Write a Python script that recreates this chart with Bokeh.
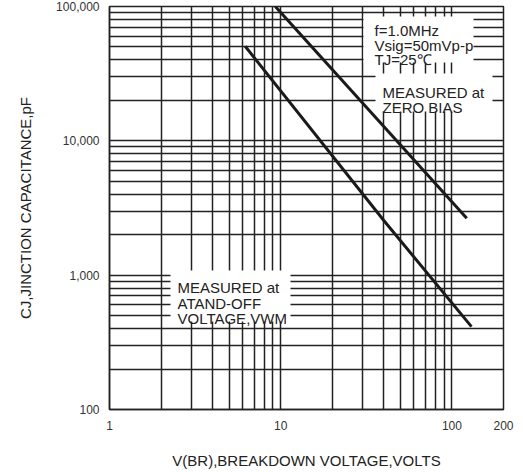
from bokeh.plotting import figure
from bokeh.models import FixedTicker, NumeralTickFormatter, Label, BoxAnnotation, Range1d
from bokeh.embed import file_html
from bokeh.resources import INLINE

# ---- data ----
x_major = [1, 10, 100, 200]
x_minor = [2, 3, 4, 5, 6, 7, 8, 9, 20, 30, 40, 50, 60, 70, 80, 90]
y_major = [100, 1000, 10000, 100000]
y_minor = [200, 300, 400, 500, 600, 700, 800, 900,
           2000, 3000, 4000, 5000, 6000, 7000, 8000, 9000,
           20000, 30000, 40000, 50000, 60000, 70000, 80000, 90000]

zero_bias_v = [9.3, 122]
zero_bias_c = [100000, 2650]
standoff_v = [6.2, 40, 130]
standoff_c = [50600, 2550, 414]

FONT = "Liberation Sans"
INK = "#222222"

p = figure(width=523, height=472, x_axis_type="log", y_axis_type="log",
           x_range=Range1d(1, 200), y_range=Range1d(100, 100000),
           output_backend="svg", toolbar_location=None,
           min_border_left=109, min_border_right=20, min_border_top=6, min_border_bottom=63,
           margin=(0, 0, 0, 0))

p.outline_line_color = INK
p.outline_line_width = 1.5
p.background_fill_color = "white"
p.border_fill_color = "white"

xt = FixedTicker(ticks=x_major, minor_ticks=x_minor)
yt = FixedTicker(ticks=y_major, minor_ticks=y_minor)
p.xaxis.ticker = xt
p.yaxis.ticker = yt
p.xaxis.formatter = NumeralTickFormatter(format="0,0")
p.yaxis.formatter = NumeralTickFormatter(format="0,0")

for ax in (p.xaxis[0], p.yaxis[0]):
    ax.major_tick_line_color = None
    ax.minor_tick_line_color = None
    ax.axis_line_color = INK
    ax.axis_line_width = 1.5
    ax.major_label_text_font = FONT
    ax.major_label_text_font_size = "12px"
    ax.major_label_text_color = "#333333"
    ax.axis_label_text_font = FONT
    ax.axis_label_text_font_size = "15px"
    ax.axis_label_text_font_style = "normal"
    ax.axis_label_text_color = INK

p.xaxis.major_label_standoff = 5
p.xaxis.axis_label_standoff = 19
p.yaxis.major_label_standoff = 4
p.yaxis.axis_label_standoff = 19

p.xaxis.axis_label = "V(BR),BREAKDOWN VOLTAGE,VOLTS"
p.yaxis.axis_label = "CJ,JINCTION CAPACITANCE,pF"

for g in (p.xgrid[0], p.ygrid[0]):
    g.grid_line_color = INK
    g.grid_line_width = 1.5
    g.grid_line_alpha = 1.0
    g.minor_grid_line_color = INK
    g.minor_grid_line_width = 1.5

p.line(zero_bias_v, zero_bias_c, line_color="#1a1a1a", line_width=3)
p.line(standoff_v, standoff_c, line_color="#1a1a1a", line_width=3)

# text boxes (screen units, relative to the frame: x from left, y from bottom)
boxes = [
    (254, 364, 393, 347),
    (266, 383, 336, 298),
    (61, 181, 139, 88),
]
for l, r, t, b in boxes:
    p.add_layout(BoxAnnotation(left=l, right=r, top=t, bottom=b,
                               left_units="screen", right_units="screen",
                               top_units="screen", bottom_units="screen",
                               fill_color="white", fill_alpha=1.0, line_color=None))

texts = [
    (265, 379, "f=1.0MHz"),
    (265, 364.5, "Vsig=50mVp-p"),
    (265, 350, "TJ=25℃"),
    (273, 317.5, "MEASURED at"),
    (273, 302.5, "ZERO BIAS"),
    (68, 122.5, "MEASURED at"),
    (68, 106.5, "ATAND-OFF"),
    (68, 91, "VOLTAGE,VWM"),
]
for x, y, t in texts:
    p.add_layout(Label(x=x, y=y, x_units="screen", y_units="screen", text=t,
                       text_font=FONT, text_font_size="15px", text_color=INK,
                       text_baseline="alphabetic", text_align="left"))

open("out.html", "w").write(file_html(p, INLINE))
